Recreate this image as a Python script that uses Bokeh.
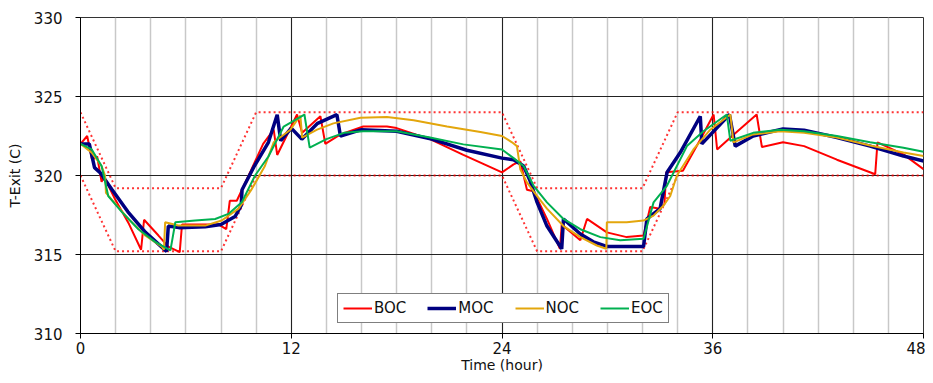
from bokeh.plotting import figure
from bokeh.models import FixedTicker, Legend, LegendItem, Range1d
from bokeh.embed import file_html
from bokeh.resources import INLINE

# ---- data ----
boc_t = [0, 0.38, 0.66, 0.95, 1.2, 1.35, 1.97, 2.73, 3.45, 3.62, 4.44, 5.0, 5.65, 5.78, 7.85, 8.3, 8.5,
         8.9, 9.7, 10.4, 11.0, 11.2, 12.33, 12.62, 13.66, 13.94, 14.8, 16.1, 17.45, 18.0, 19.9, 21.8,
         24.0, 24.66, 25.04, 25.42, 25.8, 26.56, 27.3, 27.4, 28.46, 28.84, 29.97, 31.1, 32.06, 32.44,
         33.0, 33.25, 33.35, 34.3, 35.3, 36.05, 36.25, 37.2, 38.5, 38.8, 40.0, 41.2, 43.07, 45.25,
         45.38, 46.86, 48]
boc_v = [322.0, 322.5, 321.0, 321.2, 319.6, 319.9, 318.5, 317.0, 315.3, 317.2, 316.2, 315.5, 315.15,
         316.9, 316.9, 316.6, 318.4, 318.4, 320.3, 322.0, 322.9, 321.3, 323.86, 322.7, 323.75, 322.0,
         322.6, 323.1, 323.1, 323.0, 322.3, 321.3, 320.2, 320.7, 320.9, 319.1, 319.0, 317.25, 315.36,
         316.9, 315.9, 317.25, 316.4, 316.1, 316.2, 318.0, 317.9, 318.2, 320.2, 320.3, 322.3, 323.86,
         321.65, 322.6, 323.86, 321.8, 322.1, 321.86, 321.0, 320.08, 322.1, 321.34, 320.4]

moc_t = [0, 0.5, 0.8, 1.1, 1.8, 2.7, 3.7, 4.6, 4.9, 5.0, 5.6, 7.1, 8.0, 8.8, 9.15, 9.2, 9.9, 10.7,
         11.2, 11.4, 12.0, 12.6, 13.5, 14.6, 14.8, 16.0, 18.0, 20.0, 22.0, 24.0, 24.66, 25.23, 25.6,
         26.0, 26.56, 27.4, 27.5, 28.46, 29.2, 30.0, 32.06, 32.25, 33.0, 33.4, 34.15, 35.29, 35.38,
         36.95, 37.28, 38.3, 40.0, 41.2, 43.07, 44.96, 46.86, 48]
moc_v = [322.0, 322.0, 320.5, 320.2, 319.1, 317.7, 316.4, 315.5, 315.2, 316.8, 316.7, 316.75, 316.9,
         317.4, 318.1, 319.1, 320.6, 322.1, 323.85, 322.2, 323.0, 322.3, 323.3, 323.85, 322.5, 322.9,
         322.8, 322.3, 321.6, 321.1, 321.0, 320.6, 319.66, 318.3, 316.8, 315.36, 317.25, 316.3, 315.8,
         315.5, 315.5, 317.25, 317.9, 320.2, 321.45, 323.75, 322.0, 323.86, 321.86, 322.5, 322.95,
         322.87, 322.4, 321.86, 321.23, 320.92]

noc_t = [0, 0.64, 1.2, 1.4, 1.45, 2.73, 3.68, 4.63, 4.75, 4.82, 5.57, 7.1, 8.04, 9.0, 9.75, 10.5, 11.0,
         11.95, 12.52, 12.62, 13.47, 14.4, 15.94, 17.45, 18.97, 20.87, 22.77, 24.0, 24.57, 24.85,
         25.04, 25.42, 26.0, 26.56, 27.5, 28.46, 29.4, 29.94, 29.97, 31.1, 32.06, 32.63, 33.2, 33.58,
         33.96, 34.9, 35.86, 37.0, 37.18, 38.3, 39.84, 41.2, 43.07, 44.96, 46.86, 48]
noc_v = [322.0, 321.45, 320.6, 320.0, 318.9, 317.25, 316.2, 315.5, 315.3, 317.04, 316.83, 316.83,
         317.15, 317.9, 319.14, 320.6, 322.1, 322.9, 323.8, 322.4, 322.9, 323.3, 323.65, 323.7, 323.5,
         323.1, 322.75, 322.5, 322.1, 321.86, 320.4, 319.56, 318.7, 317.9, 316.8, 316.1, 315.57,
         315.36, 317.04, 317.04, 317.15, 317.46, 318.1, 318.7, 320.0, 321.65, 322.9, 323.86, 322.1,
         322.6, 322.8, 322.7, 322.4, 321.9, 321.45, 321.23]

eoc_t = [0, 0.64, 1.2, 1.58, 2.35, 3.3, 4.25, 5.12, 5.4, 6.53, 7.67, 8.42, 9.18, 9.94, 10.7, 11.57,
         12.75, 13.05, 14.0, 15.0, 16.1, 18.0, 19.9, 21.8, 24.0, 24.66, 25.23, 25.8, 26.56, 27.5, 28.46,
         29.6, 30.73, 32.06, 32.63, 33.39, 34.53, 35.47, 36.8, 37.0, 38.3, 39.84, 41.2, 43.07, 44.96,
         46.86, 48]
eoc_v = [322.0, 321.65, 320.6, 318.7, 317.7, 316.6, 315.8, 315.26, 317.04, 317.15, 317.25, 317.57,
         318.3, 320.0, 321.2, 323.1, 323.86, 321.76, 322.3, 322.7, 322.8, 322.8, 322.4, 321.97, 321.65,
         321.1, 320.6, 319.35, 318.3, 317.25, 316.6, 316.1, 315.9, 316.0, 318.3, 319.35, 321.86, 322.8,
         323.86, 322.2, 322.7, 322.9, 322.8, 322.5, 322.1, 321.76, 321.5]

env_t = [0, 2, 8, 10, 24, 26, 32, 34, 48]
env_upper = [324, 319.2, 319.2, 324, 324, 319.2, 319.2, 324, 324]
env_lower = [320, 315.2, 315.2, 320, 320, 315.2, 315.2, 320, 320]

x_ticks = [0, 12, 24, 36, 48]
x_minor = list(range(0, 49, 2))
y_ticks = [310, 315, 320, 325, 330]

FONT = "DejaVu Sans"

p = figure(width=925, height=375, x_range=Range1d(0, 48), y_range=Range1d(310, 330),
           output_backend="svg", toolbar_location=None,
           min_border_left=80, min_border_right=2, min_border_top=17, min_border_bottom=40)

p.outline_line_color = "#333333"
p.outline_line_width = 1

xt = FixedTicker(ticks=x_ticks, minor_ticks=x_minor)
yt = FixedTicker(ticks=y_ticks)
p.xaxis.ticker = xt
p.yaxis.ticker = yt
p.xgrid.ticker = xt
p.ygrid.ticker = yt
p.xgrid.grid_line_color = "#222222"
p.xgrid.grid_line_width = 1
p.xgrid.minor_grid_line_color = "#c8c8c8"
p.xgrid.minor_grid_line_width = 1.5
p.ygrid.grid_line_color = "#222222"
p.ygrid.grid_line_width = 1

for ax in (p.xaxis[0], p.yaxis[0]):
    ax.axis_line_color = "black"
    ax.major_tick_line_color = "black"
    ax.major_tick_out = 5
    ax.major_tick_in = 0
    ax.minor_tick_line_color = None
    ax.major_label_text_font = FONT
    ax.major_label_text_font_size = "15px"
    ax.major_label_text_color = "#111111"
    ax.axis_label_text_font = FONT
    ax.axis_label_text_font_size = "14px"
    ax.axis_label_text_font_style = "normal"
    ax.axis_label_text_color = "#111111"

p.xaxis.axis_label = "Time (hour)"
p.yaxis.axis_label = "T-Exit (C)"
p.xaxis.major_label_standoff = 3
p.xaxis.axis_label_standoff = 0
p.yaxis.major_label_standoff = 13
p.yaxis.axis_label_standoff = 8

p.line(env_t, env_upper, line_color="red", line_width=2, line_dash="2 3", line_alpha=0.8)
p.line(env_t, env_lower, line_color="red", line_width=2, line_dash="2 3", line_alpha=0.8)

r_boc = p.line(boc_t, boc_v, line_color="#ff0000", line_width=2)
r_moc = p.line(moc_t, moc_v, line_color="#000080", line_width=3.5)
r_noc = p.line(noc_t, noc_v, line_color="#e3a60c", line_width=2)
r_eoc = p.line(eoc_t, eoc_v, line_color="#00b050", line_width=2)

legend = Legend(items=[LegendItem(label="BOC", renderers=[r_boc]),
                       LegendItem(label="MOC", renderers=[r_moc]),
                       LegendItem(label="NOC", renderers=[r_noc]),
                       LegendItem(label="EOC", renderers=[r_eoc])],
                orientation="horizontal", location=(257, 10), margin=0,
                border_line_color="black", border_line_width=1, background_fill_color="white",
                background_fill_alpha=1, glyph_width=29, glyph_height=14, label_height=14,
                label_standoff=2, spacing=21, padding=5,
                label_text_font=FONT, label_text_font_size="15px", label_text_color="#111111")
p.add_layout(legend)

open("out.html", "w").write(file_html(p, INLINE))
